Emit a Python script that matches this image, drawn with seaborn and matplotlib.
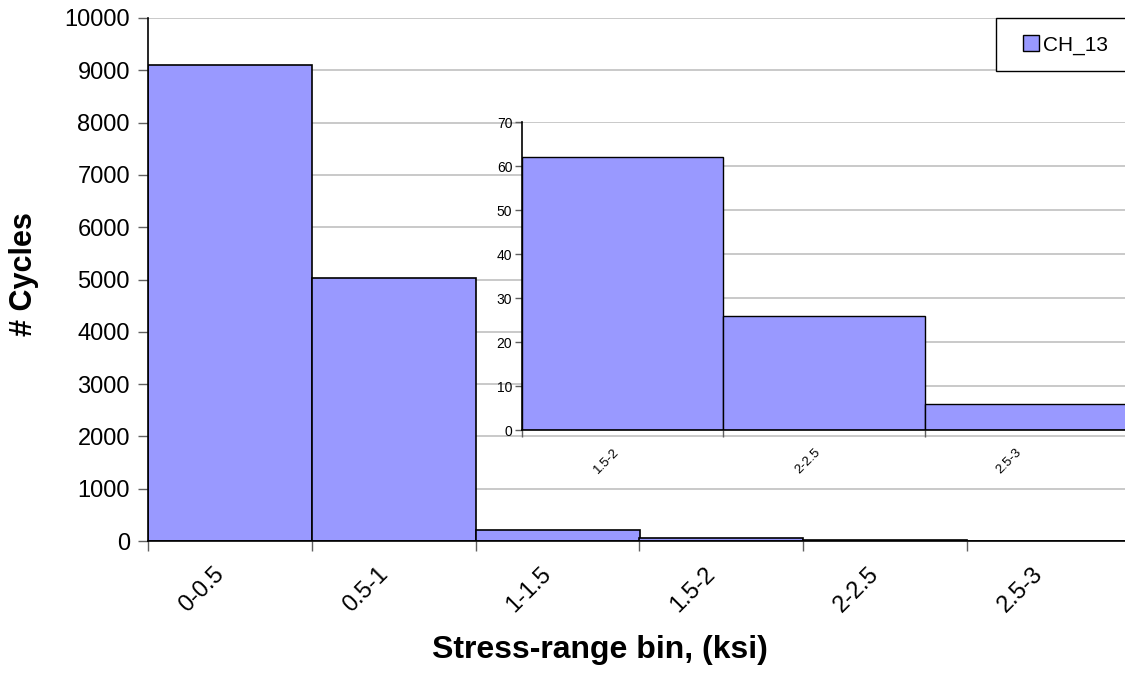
import matplotlib
matplotlib.use("Agg")
import matplotlib.pyplot as plt
import matplotlib.patches as mpatches
import matplotlib.transforms as mtransforms
import seaborn as sns
import pandas as pd

sns.set_style("white")
plt.rcParams["font.family"] = ["Liberation Sans", "DejaVu Sans"]
plt.rcParams["text.color"] = "black"
plt.rcParams["axes.labelcolor"] = "black"
plt.rcParams["xtick.color"] = "black"
plt.rcParams["ytick.color"] = "black"

# Histogram of stress-range cycles, channel CH_13
bins = ["0-0.5", "0.5-1", "1-1.5", "1.5-2", "2-2.5", "2.5-3"]
cycles = [9100, 5030, 212, 62, 26, 6]

# Zoomed view of the upper bins
zoom_bins = ["1.5-2", "2-2.5", "2.5-3"]
zoom_cycles = [62, 26, 6]

series_name = "CH_13"
bar_color = "#9999ff"
grid_color = "#c0c0c0"

W, H = 1125, 673
fig = plt.figure(figsize=(W / 100, H / 100), dpi=100)
fig.patch.set_facecolor("white")


def px_axes(left, top, right, bottom):
    return fig.add_axes([left / W, 1 - bottom / H, (right - left) / W, (bottom - top) / H])


def style_bins(ax, labels, label_size, tick_len, dx, dy):
    """Ticks between bins, slanted bin names below each bar."""
    n = len(labels)
    ax.set_xlim(-0.5, n - 0.5)
    ax.set_xticks([i - 0.5 for i in range(n + 1)])
    ax.set_xticklabels([""] * (n + 1))
    shift = mtransforms.ScaledTranslation(dx / 100, -dy / 100, fig.dpi_scale_trans)
    trans = ax.get_xaxis_transform() + shift
    for i, lab in enumerate(labels):
        ax.text(i, 0, lab, transform=trans, rotation=45, ha="right", va="top",
                rotation_mode="anchor", fontsize=label_size, clip_on=False)
    ax.tick_params(axis="x", direction="out", length=tick_len,
                   width=1, color="#606060", bottom=True)
    ax.tick_params(axis="y", direction="out", length=tick_len, width=1,
                   color="#606060", left=True)
    for side in ("top", "right"):
        ax.spines[side].set_visible(False)
    for side in ("left", "bottom"):
        ax.spines[side].set_color("black")
        ax.spines[side].set_linewidth(1.2)
    ax.yaxis.grid(True, color=grid_color, linewidth=1.2)
    ax.set_axisbelow(True)
    ax.set_xlabel("")
    ax.set_ylabel("")


# Main chart
ax = px_axes(148, 18, 1131, 541)
df = pd.DataFrame({"bin": bins, "cycles": cycles})
sns.barplot(data=df, x="bin", y="cycles", ax=ax, color=bar_color, width=1.0,
            saturation=1, edgecolor="black", linewidth=1.2)
ax.set_ylim(0, 10000)
ax.set_yticks(range(0, 10001, 1000))
style_bins(ax, bins, 17, 7, -17, 22)
ax.tick_params(axis="y", labelsize=17, pad=6)
fig.text(24 / W, 1 - 274 / H, "# Cycles", rotation=90, ha="center", va="center",
         fontsize=22, fontweight="bold")
fig.text(600 / W, 1 - 650 / H, "Stress-range bin, (ksi)", ha="center", va="center",
         fontsize=23, fontweight="bold")

# Inset
ins = px_axes(522, 122, 1126, 430)
ins.set_facecolor("white")
dz = pd.DataFrame({"bin": zoom_bins, "cycles": zoom_cycles})
sns.barplot(data=dz, x="bin", y="cycles", ax=ins, color=bar_color, width=1.0,
            saturation=1, edgecolor="black", linewidth=1.0)
ins.set_ylim(0, 70)
ins.set_yticks(range(0, 71, 10))
style_bins(ins, zoom_bins, 9.5, 5, -10, 16)
ins.tick_params(axis="y", labelsize=10, pad=2)

# Legend box running off the right edge, with the entry inside it
fig.patches.append(mpatches.Rectangle((996 / W, 1 - 71 / H), 140 / W, 53 / H,
                                      transform=fig.transFigure, facecolor="white",
                                      edgecolor="black", linewidth=1, zorder=5))
handle = mpatches.Patch(facecolor=bar_color, edgecolor="black", linewidth=1,
                        label=series_name)
leg = fig.legend(handles=[handle], loc="center left",
                 bbox_to_anchor=(1023 / W, 1 - 45 / H), fontsize=15,
                 frameon=False, handlelength=0.75, handleheight=0.75,
                 handletextpad=0.2, borderpad=0, borderaxespad=0)
leg.set_zorder(6)

fig.savefig("out.png", dpi=100, facecolor="white")
